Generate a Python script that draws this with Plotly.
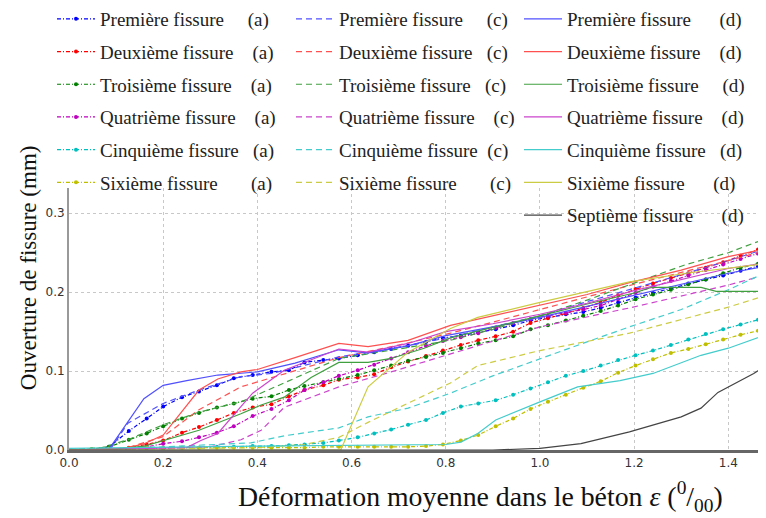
import plotly.graph_objects as go

# shared strain steps for the (a) series
x_a = [0.0, 0.048, 0.085, 0.127, 0.165, 0.20, 0.24, 0.276, 0.314, 0.35,
       0.39, 0.43, 0.467, 0.50, 0.54, 0.573, 0.613, 0.648, 0.684, 0.72,
       0.758, 0.794, 0.832, 0.869, 0.906, 0.943, 0.98, 1.017, 1.055, 1.092,
       1.129, 1.166, 1.203, 1.24, 1.278, 1.315, 1.352, 1.389, 1.426, 1.463]

a1 = [0, 0, 0.004, 0.024, 0.040, 0.055, 0.067, 0.074, 0.082, 0.091,
      0.095, 0.099, 0.101, 0.111, 0.114, 0.116, 0.120, 0.124, 0.128, 0.132,
      0.137, 0.142, 0.145, 0.149, 0.153, 0.158, 0.164, 0.168, 0.172, 0.175,
      0.180, 0.187, 0.193, 0.199, 0.205, 0.211, 0.216, 0.221, 0.227, 0.233]
a2 = [0, 0, 0.001, 0.003, 0.007, 0.012, 0.022, 0.029, 0.038, 0.047,
      0.054, 0.058, 0.068, 0.076, 0.082, 0.089, 0.092, 0.096, 0.105, 0.112,
      0.119, 0.126, 0.133, 0.139, 0.144, 0.150, 0.161, 0.167, 0.173, 0.180,
      0.187, 0.196, 0.204, 0.211, 0.218, 0.224, 0.231, 0.238, 0.246, 0.254]
a3 = [0, 0.001, 0.004, 0.013, 0.021, 0.030, 0.040, 0.047, 0.054, 0.059,
      0.065, 0.068, 0.076, 0.081, 0.086, 0.090, 0.095, 0.101, 0.107, 0.113,
      0.118, 0.123, 0.129, 0.135, 0.139, 0.144, 0.153, 0.158, 0.164, 0.170,
      0.176, 0.183, 0.191, 0.197, 0.203, 0.210, 0.216, 0.224, 0.231, 0.236]
a4 = [0, 0, 0, 0.001, 0.004, 0.008, 0.011, 0.016, 0.022, 0.030,
      0.043, 0.052, 0.063, 0.076, 0.086, 0.094, 0.101, 0.108, 0.116, 0.124,
      0.132, 0.138, 0.143, 0.148, 0.155, 0.161, 0.166, 0.170, 0.174, 0.178,
      0.183, 0.191, 0.199, 0.207, 0.214, 0.221, 0.228, 0.235, 0.242, 0.249]
a5 = [0, 0, 0.001, 0.001, 0.002, 0.002, 0.003, 0.003, 0.004, 0.004,
      0.005, 0.005, 0.006, 0.007, 0.009, 0.012, 0.016, 0.021, 0.026, 0.032,
      0.038, 0.047, 0.055, 0.059, 0.063, 0.070, 0.078, 0.086, 0.094, 0.100,
      0.107, 0.114, 0.120, 0.126, 0.133, 0.140, 0.147, 0.153, 0.159, 0.165]
a6 = [0, 0.001, 0.002, 0.002, 0.003, 0.003, 0.003, 0.003, 0.003, 0.003,
      0.003, 0.003, 0.003, 0.003, 0.004, 0.004, 0.004, 0.004, 0.004, 0.004,
      0.005, 0.007, 0.012, 0.019, 0.030, 0.040, 0.052, 0.061, 0.070, 0.079,
      0.087, 0.098, 0.107, 0.115, 0.123, 0.128, 0.134, 0.140, 0.146, 0.151]

# (c) series
c1_x = [0, 0.09, 0.125, 0.2, 0.276, 0.365, 0.43, 0.573, 0.7, 0.81, 0.9, 1.0, 1.1, 1.2, 1.3, 1.4, 1.48]
c1_y = [0, 0.003, 0.034, 0.059, 0.076, 0.093, 0.097, 0.118, 0.130, 0.143, 0.156, 0.170, 0.188, 0.205, 0.222, 0.240, 0.255]
c2_x = [0, 0.12, 0.2, 0.276, 0.365, 0.45, 0.573, 0.7, 0.81, 0.9, 1.0, 1.1, 1.2, 1.3, 1.4, 1.48]
c2_y = [0, 0.002, 0.017, 0.051, 0.080, 0.095, 0.117, 0.133, 0.148, 0.162, 0.178, 0.194, 0.210, 0.225, 0.240, 0.253]
c3_x = [0, 0.07, 0.125, 0.2, 0.276, 0.365, 0.457, 0.573, 0.7, 0.81, 0.9, 1.0, 1.1, 1.17, 1.31, 1.4, 1.48]
c3_y = [0, 0.003, 0.013, 0.032, 0.048, 0.061, 0.085, 0.116, 0.128, 0.139, 0.153, 0.170, 0.190, 0.205, 0.235, 0.250, 0.268]
c4_x = [0, 0.3, 0.365, 0.408, 0.457, 0.573, 0.684, 0.81, 1.0, 1.19, 1.4, 1.48]
c4_y = [0, 0.004, 0.013, 0.025, 0.054, 0.080, 0.099, 0.122, 0.156, 0.180, 0.209, 0.222]
c5_x = [0, 0.2, 0.386, 0.457, 0.573, 0.635, 0.72, 0.81, 0.9, 1.0, 1.1, 1.19, 1.3, 1.4, 1.48]
c5_y = [0, 0.004, 0.009, 0.018, 0.028, 0.042, 0.053, 0.072, 0.094, 0.116, 0.137, 0.156, 0.178, 0.203, 0.225]
c6_x = [0, 0.4, 0.5, 0.573, 0.635, 0.72, 0.81, 0.868, 1.0, 1.19, 1.3, 1.4, 1.48]
c6_y = [0, 0.003, 0.007, 0.016, 0.035, 0.059, 0.085, 0.107, 0.126, 0.148, 0.165, 0.181, 0.196]

# (d) series
d1_x = [0, 0.085, 0.159, 0.2, 0.25, 0.316, 0.4, 0.48, 0.573, 0.635, 0.72, 0.8, 0.9, 1.0, 1.1, 1.2, 1.3, 1.4, 1.48]
d1_y = [0, 0.001, 0.065, 0.082, 0.088, 0.095, 0.099, 0.110, 0.127, 0.123, 0.132, 0.145, 0.156, 0.168, 0.182, 0.196, 0.210, 0.224, 0.233]
d2_x = [0, 0.12, 0.16, 0.2, 0.276, 0.316, 0.365, 0.4, 0.48, 0.573, 0.635, 0.72, 0.81, 0.9, 1.0, 1.1, 1.19, 1.3, 1.4, 1.48]
d2_y = [0, 0.002, 0.008, 0.019, 0.076, 0.090, 0.099, 0.102, 0.117, 0.135, 0.131, 0.139, 0.158, 0.170, 0.183, 0.197, 0.212, 0.228, 0.245, 0.255]
d3_x = [0, 0.1, 0.16, 0.2, 0.276, 0.365, 0.408, 0.457, 0.514, 0.573, 0.635, 0.684, 0.754, 0.81, 0.9, 1.0, 1.1, 1.2, 1.236, 1.342, 1.374, 1.48]
d3_y = [0, 0.001, 0.005, 0.012, 0.025, 0.046, 0.057, 0.067, 0.092, 0.111, 0.111, 0.116, 0.129, 0.142, 0.155, 0.170, 0.185, 0.199, 0.206, 0.206, 0.201, 0.201]
d4_x = [0, 0.25, 0.28, 0.316, 0.365, 0.39, 0.457, 0.573, 0.635, 0.72, 0.8, 0.9, 1.0, 1.1, 1.2, 1.3, 1.4, 1.48]
d4_y = [0, 0.003, 0.012, 0.021, 0.055, 0.072, 0.101, 0.128, 0.124, 0.135, 0.150, 0.160, 0.172, 0.186, 0.202, 0.216, 0.230, 0.237]
d5_x = [0, 0.4, 0.8, 0.832, 0.868, 0.906, 1.0, 1.08, 1.17, 1.24, 1.342, 1.4, 1.48]
d5_y = [0.002, 0.005, 0.007, 0.010, 0.021, 0.038, 0.061, 0.080, 0.088, 0.097, 0.120, 0.129, 0.146]
d6_x = [0, 0.577, 0.635, 0.684, 0.72, 0.81, 0.868, 1.0, 1.19, 1.31, 1.4, 1.48]
d6_y = [0, 0.0, 0.080, 0.105, 0.124, 0.154, 0.168, 0.187, 0.213, 0.224, 0.230, 0.236]
d7_x = [0, 0.9, 1.0, 1.087, 1.19, 1.30, 1.342, 1.378, 1.454, 1.48]
d7_y = [0, 0.0, 0.002, 0.008, 0.023, 0.042, 0.053, 0.073, 0.097, 0.107]

NB = "\u00a0"
names = ["Première fissure", "Deuxième fissure", "Troisième fissure",
         "Quatrième fissure", "Cinquième fissure", "Sixième fissure", "Septième fissure"]
# spacing before the (a)/(c)/(d) tags
pads_a = [5, 4, 4, 4, 3, 7]
pads_c = [5, 3, 3, 4, 2, 7]
pads_d = [6, 4, 5, 4, 3, 6, 6]

colors = ["#0000ff", "#ff0000", "#008000", "#bf00bf", "#00bfbf", "#bfbf00", "#000000"]
soft = ["#5050ff", "#ff5050", "#40a040", "#cc44cc", "#44cccc", "#cccc44", "#444444"]

a_series = [a1, a2, a3, a4, a5, a6]
c_series = [(c1_x, c1_y), (c2_x, c2_y), (c3_x, c3_y), (c4_x, c4_y), (c5_x, c5_y), (c6_x, c6_y)]
d_series = [(d1_x, d1_y), (d2_x, d2_y), (d3_x, d3_y), (d4_x, d4_y), (d5_x, d5_y), (d6_x, d6_y), (d7_x, d7_y)]

fig = go.Figure()

for i, ys in enumerate(a_series):
    fig.add_trace(go.Scatter(
        x=x_a, y=ys, mode="lines+markers",
        name=names[i] + NB * pads_a[i] + "(a)",
        line=dict(color=colors[i], width=1.2, dash="4px,2px,1px,2px"),
        marker=dict(color=colors[i], size=4),
        legend="legend", legendgroup="a%d" % i))

for i, (xs, ys) in enumerate(c_series):
    fig.add_trace(go.Scatter(
        x=xs, y=ys, mode="lines",
        name=names[i] + NB * pads_c[i] + "(c)",
        line=dict(color=soft[i], width=1.2, dash="6px,4px"),
        legend="legend2", legendgroup="c%d" % i))

for i, (xs, ys) in enumerate(d_series):
    fig.add_trace(go.Scatter(
        x=xs, y=ys, mode="lines",
        name=names[i] + NB * pads_d[i] + "(d)",
        line=dict(color=soft[i], width=1.2),
        legend="legend3", legendgroup="d%d" % i))

# page body adds an 8px offset, so the figure is sized 8px smaller
W, H = 758, 510
leg_font = dict(family="Liberation Serif", size=19, color="#222")
leg_common = dict(font=leg_font, bgcolor="rgba(0,0,0,0)", tracegroupgap=5,
                  itemwidth=38,
                  xref="container", yref="paper", xanchor="left", yanchor="top",
                  y=1.7176)

fig.update_layout(
    width=W, height=H,
    margin=dict(l=61, r=0, t=180, b=68, autoexpand=False),
    paper_bgcolor="white", plot_bgcolor="white",
    showlegend=True,
    legend=dict(x=44 / W, **leg_common),
    legend2=dict(x=283 / W, **leg_common),
    legend3=dict(x=511 / W, **leg_common),
    xaxis=dict(range=[0, 1.48], dtick=0.2, tickformat=".1f",
               showgrid=True, gridcolor="#c8c8c8", griddash="dot", gridwidth=1,
               showline=True, linecolor="#666", linewidth=3, zeroline=False,
               tickfont=dict(family="DejaVu Sans", size=12, color="#333")),
    yaxis=dict(range=[0, 0.332], dtick=0.1, tickformat=".1f",
               showgrid=True, gridcolor="#c8c8c8", griddash="dot", gridwidth=1,
               showline=True, linecolor="#999", linewidth=2, zeroline=False,
               tickfont=dict(family="DejaVu Sans", size=12, color="#333")),
    annotations=[
        dict(text="Déformation moyenne dans le béton <i>ε</i> (<sup>0</sup>/<sub>00</sub>)",
             xref="paper", yref="paper", x=0.591, y=-0.1756,
             xanchor="center", yanchor="middle", showarrow=False,
             font=dict(family="Liberation Serif", size=27.8, color="#111")),
        dict(text="Ouverture de fissure (mm)", textangle=-90,
             xref="paper", yref="paper", x=-0.057, y=0.695,
             xanchor="center", yanchor="middle", showarrow=False,
             font=dict(family="Liberation Serif", size=23, color="#111")),
    ],
)

fig.write_html("out.html")
